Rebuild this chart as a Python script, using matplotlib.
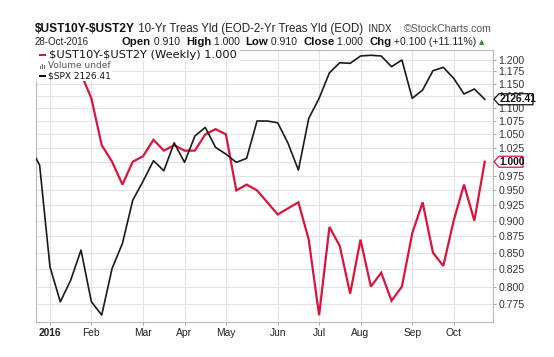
import numpy as np
import pandas as pd
import matplotlib
matplotlib.use("Agg")
import matplotlib.pyplot as plt
from matplotlib.ticker import FixedLocator, FormatStrFormatter, NullLocator
from matplotlib.patches import Rectangle, Polygon

plt.rcParams["text.parse_math"] = False

# weekly bars (Monday dates), Dec 2015 - Oct 2016
weeks = pd.date_range("2015-12-21", periods=45, freq="W-MON")

# $UST10Y-$UST2Y spread (weekly close)
spread = [1.21, 1.22, 1.20, 1.19, 1.19, 1.17, 1.12, 1.03, 1.00, 0.96,
          1.00, 1.01, 1.04, 1.02, 1.03, 1.02, 1.02, 1.05, 1.06, 1.05,
          0.95, 0.96, 0.95, 0.93, 0.91, 0.92, 0.93, 0.87, 0.76, 0.89,
          0.86, 0.79, 0.87, 0.80, 0.82, 0.78, 0.80, 0.88, 0.93, 0.85,
          0.83, 0.90, 0.96, 0.90, 1.00]

# $SPX overlay (weekly close)
spx = [2066.7, 2042.9, 1920.2, 1879.8, 1904.7, 1939.9, 1879.8, 1864.8, 1918.3, 1947.8,
       1999.8, 2023.1, 2048.3, 2035.8, 2070.8, 2046.3, 2079.3, 2090.3, 2065.0, 2056.6,
       2046.3, 2051.3, 2098.4, 2098.4, 2096.2, 2070.1, 2036.7, 2101.8, 2127.6, 2161.0,
       2174.2, 2173.4, 2183.1, 2184.1, 2183.1, 2169.0, 2177.8, 2127.6, 2138.4, 2163.7,
       2168.1, 2153.7, 2133.2, 2139.7, 2126.41]

yticks = [0.775, 0.800, 0.825, 0.850, 0.875, 0.900, 0.925, 0.950, 0.975, 1.000,
          1.025, 1.050, 1.075, 1.100, 1.125, 1.150, 1.175, 1.200]

RED = "#dc143c"
W, H = 554, 357

fig = plt.figure(figsize=(W / 100, H / 100), dpi=100)
fig.patch.set_facecolor("white")

def fx(x):
    return x / W

def fy(y):
    return 1 - y / H

ax = fig.add_axes([fx(36), fy(322), (493 - 36) / W, (322 - 50) / H])
ax2 = ax.twinx()

# bar index, 0 = first week of 2016
x = np.arange(len(weeks)) - int(np.argmax(weeks.year == 2016))

ax.plot(x, spread, color=RED, lw=1.6, solid_joinstyle="miter", zorder=3)
ax2.plot(x, spx, color="#1a1a1a", lw=1.2, zorder=3)

ax.set_xlim(-1.35, 42.8)
ax.set_yscale("log")
ax.set_ylim(0.7509, 1.2210)
ax2.set_yscale("log")
ax2.set_ylim(1856.85, 2191.1)

ax.yaxis.set_major_locator(FixedLocator(yticks))
ax.yaxis.set_major_formatter(FormatStrFormatter("%.3f"))
ax.yaxis.set_minor_locator(NullLocator())
ax.yaxis.tick_right()
ax2.yaxis.set_major_locator(NullLocator())
ax2.yaxis.set_minor_locator(NullLocator())
ax2.tick_params(which="both", right=False, labelright=False)

# month ticks at the first bar of each month
first = [i for i in range(len(weeks)) if weeks[i].year == 2016 and
         (i == 0 or weeks[i].month != weeks[i - 1].month)]
ax.set_xticks(x[first])
ax.set_xticklabels(["2016" if weeks[i].month == 1 else weeks[i].strftime("%b") for i in first])
ax.get_xticklabels()[0].set_fontweight("bold")

ax.grid(True, color="#e3e3e3", lw=0.8)
ax.set_axisbelow(True)
for s in ax.spines.values():
    s.set_color("#b8b8b8")
    s.set_linewidth(0.8)
for s in ax2.spines.values():
    s.set_visible(False)
ax.tick_params(axis="y", length=2, width=0.6, pad=2, color="#999999",
               labelsize=7.6, labelcolor="#333333", labelfontfamily="Liberation Sans")
ax.tick_params(axis="x", length=2, width=0.6, pad=2, color="#999999",
               labelsize=7.4, labelcolor="#222222", labelfontfamily="Liberation Sans")

# header
r = fig.canvas.get_renderer()

def run(x0, y0, pieces):
    xx = x0
    for s, kw in pieces:
        t = fig.text(fx(xx), fy(y0), s, va="center", ha="left", **kw)
        xx += t.get_window_extent(r).width
    return xx

LS = "Liberation Sans"
run(35, 29, [("$UST10Y-$UST2Y", dict(fontsize=8.6, fontweight="bold", family=LS, color="#111111")),
             (" 10-Yr Treas Yld (EOD-2-Yr Treas Yld (EOD)", dict(fontsize=8.3, family=LS, color="#222222")),
             ("  INDX", dict(fontsize=7, family=LS, color="#222222"))])
fig.text(fx(492), fy(29), "\u00a9StockCharts.com", ha="right", va="center",
         fontsize=7.6, family=LS, color="#555555")
fig.text(fx(35), fy(42), "28-Oct-2016", ha="left", va="center", fontsize=7, family=LS, color="#222222")
b = dict(fontsize=8.2, fontweight="bold", family=LS, color="#111111")
v = dict(fontsize=7.6, family=LS, color="#222222")
xe = run(122, 42, [("Open", b), (" 0.910  ", v), ("High", b), (" 1.000  ", v), ("Low", b),
                   (" 0.910  ", v), ("Close", b), (" 1.000  ", v), ("Chg", b),
                   (" +0.100 (+11.11%) ", v)])
fig.text(fx(xe), fy(42), "\u25b2", ha="left", va="center", fontsize=5,
         family="DejaVu Sans", color="#2e8b2e")

# legend rows on white ground
fig.add_artist(Rectangle((fx(31), fy(60.5)), fx(240 - 31), 10.5 / H, transform=fig.transFigure,
                         fc="white", ec="none", zorder=4))
fig.add_artist(Rectangle((fx(31), fy(81)), fx(112 - 31), 21 / H, transform=fig.transFigure,
                         fc="white", ec="none", zorder=4))
fig.add_artist(Rectangle((fx(39), fy(55.6)), fx(7), 1.6 / H, transform=fig.transFigure,
                         fc=RED, ec="none", zorder=5))
fig.add_artist(Rectangle((fx(39), fy(76.6)), fx(7), 1.6 / H, transform=fig.transFigure,
                         fc="#111111", ec="none", zorder=5))
for bx, bh in [(39.5, 3), (41.5, 5), (43.5, 4)]:
    fig.add_artist(Rectangle((fx(bx), fy(69)), fx(1.4), bh / H, transform=fig.transFigure,
                             fc="#666666", ec="none", zorder=5))
fig.text(fx(49), fy(55), "$UST10Y-$UST2Y (Weekly) 1.000", ha="left", va="center",
         fontsize=8.2, family="DejaVu Sans", color="#111111", zorder=6)
fig.text(fx(48), fy(66), "Volume undef", ha="left", va="center",
         fontsize=6.5, family="DejaVu Sans", color="#555555", zorder=6)
fig.text(fx(48), fy(76), "$SPX 2126.41", ha="left", va="center",
         fontsize=6.5, family="DejaVu Sans", color="#111111", zorder=6)

# last-value tags on the right edge
def tag(yc, x1, label, ec):
    pts = [(fx(494), fy(yc)), (fx(499), fy(yc - 5.5)), (fx(x1), fy(yc - 5.5)),
           (fx(x1), fy(yc + 5.5)), (fx(499), fy(yc + 5.5))]
    fig.add_artist(Polygon(pts, closed=True, transform=fig.transFigure,
                           fc="white", ec=ec, lw=0.9, zorder=7))
    fig.text(fx(499.5), fy(yc), label, ha="left", va="center", fontsize=7.4,
             fontweight="bold", family=LS, color="#111111", zorder=8)

y_spx = H - ax2.transData.transform((0, spx[-1]))[1]
y_spr = H - ax.transData.transform((0, spread[-1]))[1]
tag(y_spx, 533, "2126.41", "#111111")
tag(y_spr, 523, "1.000", RED)

fig.savefig("out.png", dpi=100)
